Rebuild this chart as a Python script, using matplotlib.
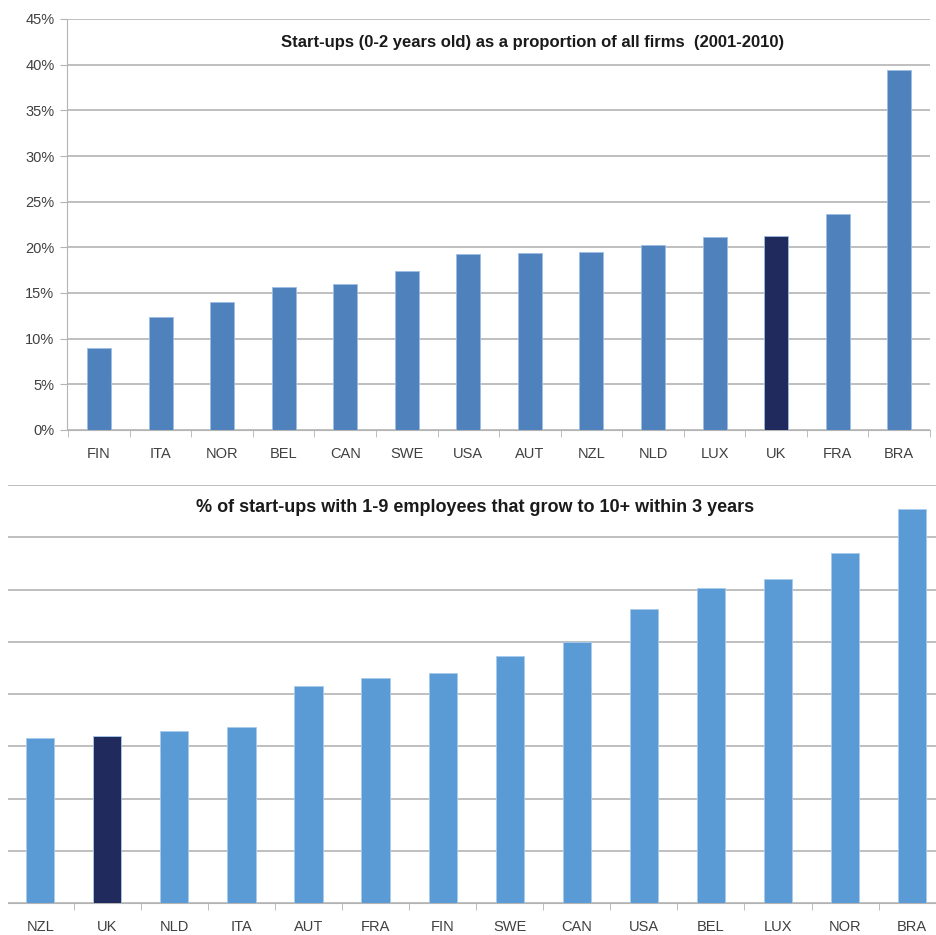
import matplotlib.pyplot as plt
import numpy as np
from matplotlib.ticker import FixedLocator, PercentFormatter

# górny wykres: udział start-upów (0-2 lata) w ogóle firm, %
top_countries = ["FIN", "ITA", "NOR", "BEL", "CAN", "SWE", "USA",
                 "AUT", "NZL", "NLD", "LUX", "UK", "FRA", "BRA"]
top_values = [9.0, 12.35, 14.05, 15.7, 15.95, 17.45, 19.3,
              19.4, 19.45, 20.25, 21.1, 21.2, 23.7, 39.45]

# dolny wykres: odsetek start-upów 1-9 osób rosnących do 10+ (bez opisu osi)
bottom_countries = ["NZL", "UK", "NLD", "ITA", "AUT", "FRA", "FIN",
                    "SWE", "CAN", "USA", "BEL", "LUX", "NOR", "BRA"]
bottom_values = [3.15, 3.2, 3.29, 3.37, 4.15, 4.31, 4.41,
                 4.73, 4.99, 5.63, 6.03, 6.2, 6.69, 7.55]

highlight = "UK"
grid_col = "#b4b4b4"
text_col = "#404040"
font = ["Liberation Sans", "DejaVu Sans"]


def style_axis(ax, n):
    for side in ["top", "right", "left"]:
        ax.spines[side].set_visible(False)
    ax.spines["bottom"].set_color(grid_col)
    ax.set_axisbelow(True)
    ax.yaxis.grid(True, color=grid_col, linewidth=1.2)
    ax.set_xticks(np.arange(n))
    ax.xaxis.set_minor_locator(FixedLocator(np.arange(n + 1) - 0.5))
    ax.tick_params(axis="x", which="major", length=0, pad=12,
                   labelsize=10.5, labelcolor=text_col)
    ax.tick_params(axis="x", which="minor", length=5, color=grid_col)
    for lbl in ax.get_xticklabels():
        lbl.set_fontfamily(font)


fig = plt.figure(figsize=(9.37, 9.35), dpi=100)

# --- górny ---
ax1 = fig.add_axes([67 / 937, 505 / 935, 863 / 937, 411 / 935])
x1 = np.arange(len(top_countries))
cols1 = ["#202a5c" if c == highlight else "#4f81bd" for c in top_countries]
ax1.bar(x1, top_values, width=0.39, color=cols1, edgecolor="#9cbde3",
        linewidth=0.6, zorder=3)
ax1.set_xticks(x1)
ax1.set_xticklabels(top_countries)
style_axis(ax1, len(top_countries))
ax1.spines["left"].set_visible(True)
ax1.spines["left"].set_color(grid_col)
ax1.set_xlim(-0.52, 13.5)
ax1.set_ylim(0, 45)
ax1.set_yticks(np.arange(0, 46, 5))
ax1.yaxis.set_major_formatter(PercentFormatter(decimals=0))
ax1.tick_params(axis="y", length=5, color=grid_col, labelsize=10.5,
                labelcolor=text_col, pad=4)
for lbl in ax1.get_yticklabels():
    lbl.set_fontfamily(font)
ax1.text(0.539, 0.942, "Start-ups (0-2 years old) as a proportion of all firms  (2001-2010)",
         transform=ax1.transAxes, ha="center", va="center", fontsize=12,
         fontweight="bold", color="#1a1a1a", family=font)

# --- dolny ---
ax2 = fig.add_axes([8 / 937, 32 / 935, 929 / 937, 418 / 935])
x2 = np.arange(len(bottom_countries))
cols2 = ["#202a5c" if c == highlight else "#5b9bd5" for c in bottom_countries]
ax2.bar(x2, bottom_values, width=0.42, color=cols2, edgecolor="#a9cbec",
        linewidth=0.6, zorder=3)
ax2.set_xticks(x2)
ax2.set_xticklabels(bottom_countries)
style_axis(ax2, len(bottom_countries))
ax2.set_xlim(-0.48, 13.37)
ax2.set_ylim(0, 8)
ax2.set_yticks(np.arange(0, 9, 1))
ax2.tick_params(axis="y", length=0, labelleft=False)
ax2.text(0.503, 0.945, "% of start-ups with 1-9 employees that grow to 10+ within 3 years",
         transform=ax2.transAxes, ha="center", va="center", fontsize=13,
         fontweight="bold", color="#1a1a1a", family=font)

plt.savefig("out.png", dpi=100)
